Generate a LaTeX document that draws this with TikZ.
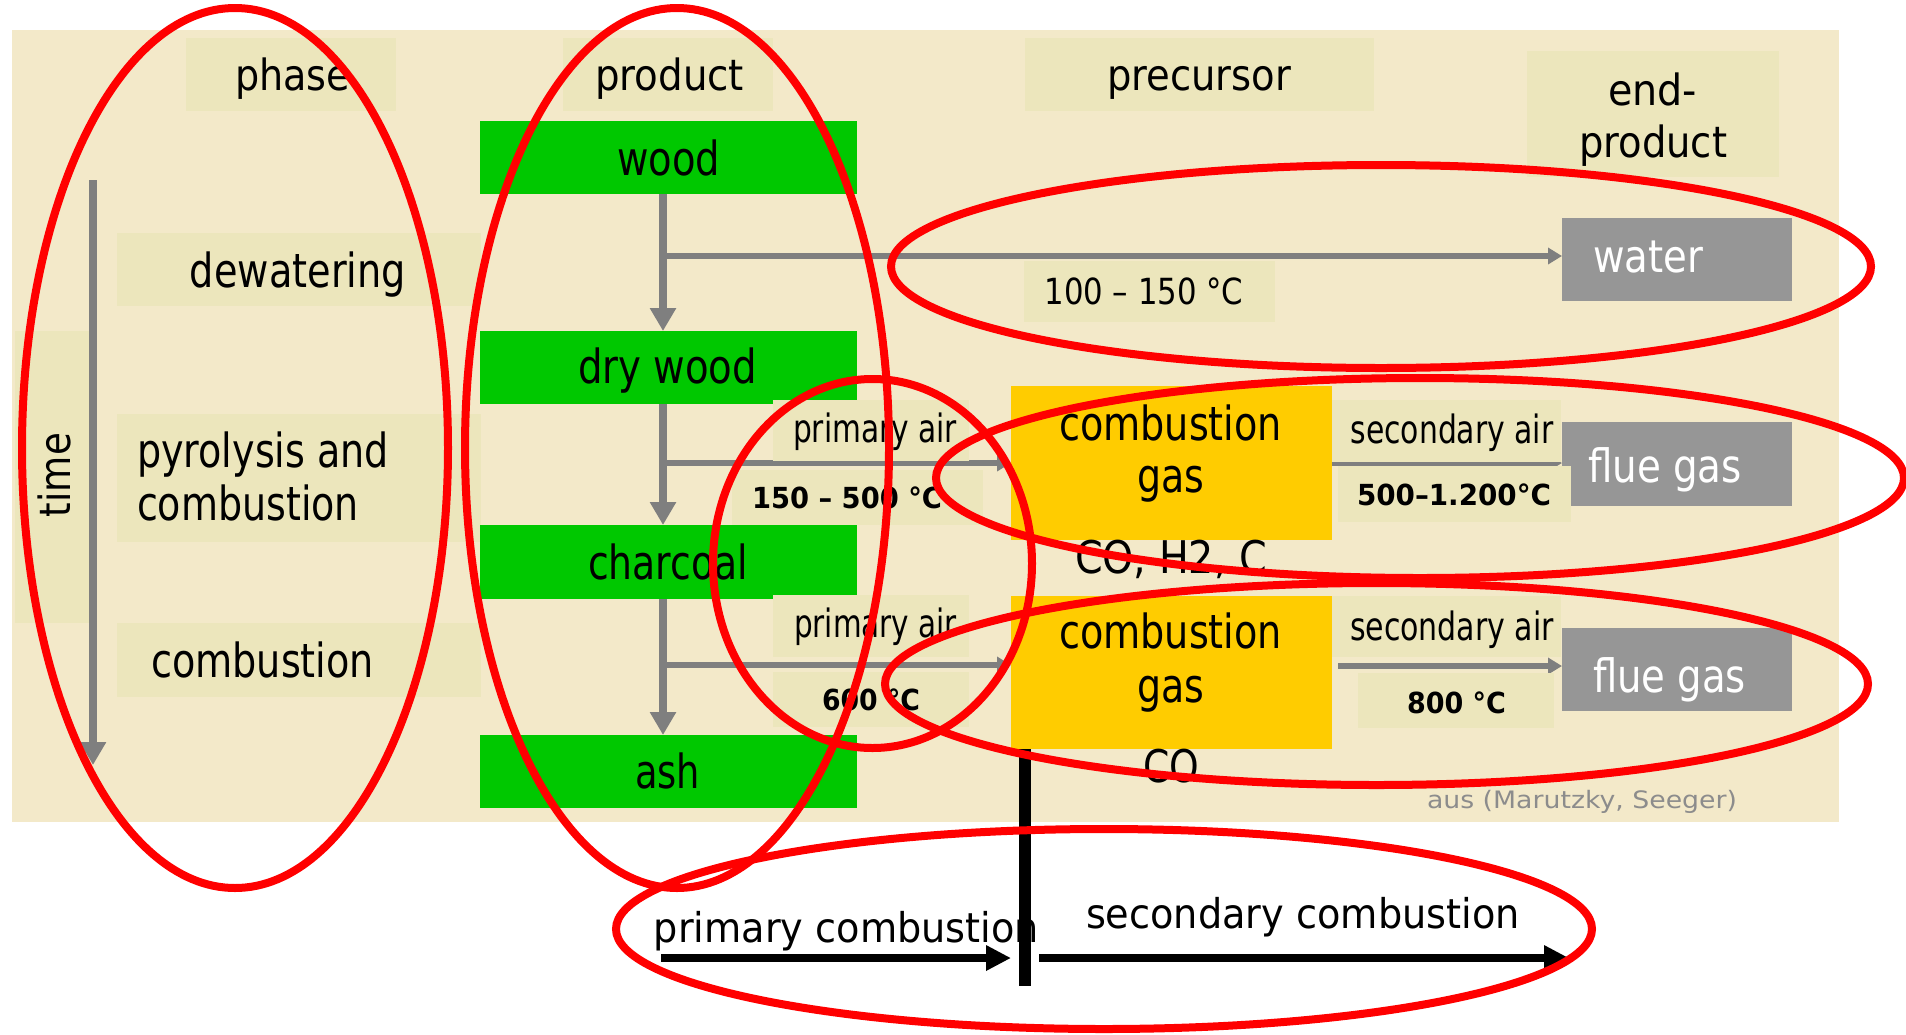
\documentclass[tikz,border=0pt]{standalone}
\usepackage{fontspec}
\setmainfont{DejaVu Sans}
\usepackage{graphicx}
\usetikzlibrary{arrows.meta,fit}
\definecolor{bgbeige}{HTML}{F3E9C9}
\definecolor{lbl}{HTML}{ECE6BC}
\definecolor{grn}{HTML}{00C800}
\definecolor{orng}{HTML}{FFCC00}
\definecolor{endgray}{HTML}{969696}
\definecolor{arrgray}{HTML}{7F7F7F}
\definecolor{srcgray}{HTML}{8C8C8C}
\newcommand{\fitw}[3]{\resizebox{#1pt}{\height}{\fontsize{#2pt}{#2pt}\selectfont #3}}
\begin{document}
\begin{tikzpicture}[x=1pt,y=-1pt,
  box/.style={inner sep=0pt, outer sep=0pt, draw=none},
  lblbox/.style={box, fill=lbl},
  grnbox/.style={box, fill=grn},
  orgbox/.style={box, fill=orng},
  endbox/.style={box, fill=endgray},
  txt/.style={inner sep=0pt, outer sep=0pt, anchor=base},
  wtxt/.style={txt, text=white},
  grayv/.style={draw=arrgray, line width=8pt, -{Triangle[width=25pt,length=23pt]}},
  grayh/.style={draw=arrgray, line width=6pt, -{Triangle[width=16pt,length=14pt]}},
  blackarr/.style={draw=black, line width=8pt, -{Triangle[width=24pt,length=25pt]}},
  divider/.style={draw=black, line width=12pt},
  redell/.style={draw=red, line width=8pt}]
\useasboundingbox (0,0) rectangle (1906,1034);
\fill[white] (0,0) rectangle (1906,1034);
\fill[bgbeige] (12,30) rectangle (1839,822);

% header boxes
\node[lblbox, fit={(186,38) (396,111)}] (hphase) {};
\node[lblbox, fit={(563,38) (773,111)}] (hproduct) {};
\node[lblbox, fit={(1025,38) (1374,111)}] (hprecursor) {};
\node[lblbox, fit={(1527,51) (1779,177)}] (hend) {};
% phase boxes
\node[lblbox, fit={(117,233) (481,306)}] (pdew) {};
\node[lblbox, fit={(117,414) (481,542)}] (ppyr) {};
\node[lblbox, fit={(117,623) (481,697)}] (pcomb) {};
\node[lblbox, fit={(15,331) (89,623)}] (ptime) {};
% product boxes
\node[grnbox, fit={(480,121) (857,194)}] (wood) {};
\node[grnbox, fit={(480,331) (857,404)}] (drywood) {};
\node[grnbox, fit={(480,525) (857,599)}] (charcoal) {};
\node[grnbox, fit={(480,735) (857,808)}] (ash) {};
% precursor boxes
\node[orgbox, fit={(1011,386) (1332,540)}] (comb1) {};
\node[orgbox, fit={(1011,596) (1332,749)}] (comb2) {};
% end products
\node[endbox, fit={(1562,218) (1792,301)}] (water) {};
\node[endbox, fit={(1562,422) (1792,506)}] (flue1) {};
\node[endbox, fit={(1562,628) (1792,711)}] (flue2) {};

% connectors
\coordinate (tstart) at (93,180);
\coordinate (tend) at (93,765);
\draw[grayv] (tstart) -- (tend);
\draw[grayv] ([xshift=-5.5pt]wood.south) -- ([xshift=-5.5pt]drywood.north);
\draw[grayv] ([xshift=-5.5pt]drywood.south) -- ([xshift=-5.5pt]charcoal.north);
\draw[grayv] ([xshift=-5.5pt]charcoal.south) -- ([xshift=-5.5pt]ash.north);
\coordinate (b1) at (663,256);
\coordinate (b2) at (663,463);
\coordinate (b3) at (663,665);
\draw[grayh] (b1) -- (b1 -| water.west);
\draw[grayh] (b2) -- (b2 -| comb1.west);
\draw[grayh] (b3) -- (b3 -| comb2.west);
\coordinate (a1) at (1332,463);
\coordinate (a2) at (1338,666);
\draw[grayh] (a1) -- (a1 -| flue1.west);
\draw[grayh] (a2) -- (a2 -| flue2.west);

% label boxes
\node[lblbox, fit={(1024,261) (1275,322)}] (l100) {};
\node[lblbox, fit={(773,400) (969,461)}] (lpa1) {};
\node[lblbox, fit={(732,470) (983,525)}] (l150) {};
\node[lblbox, fit={(773,595) (969,657)}] (lpa2) {};
\node[lblbox, fit={(773,672) (969,727)}] (l600) {};
\node[lblbox, fit={(1332,400) (1561,462)}] (lsa1) {};
\node[lblbox, fit={(1338,466) (1571,522)}] (l500) {};
\node[lblbox, fit={(1332,596) (1561,657)}] (lsa2) {};
\node[lblbox, fit={(1358,673) (1554,728)}] (l800) {};

% bottom divider and arrows
\coordinate (divtop) at (1025,749);
\coordinate (divbot) at (1025,986);
\draw[divider] (divtop) -- (divbot);
\coordinate (pc0) at (661,958);
\coordinate (pc1) at (1011,958);
\coordinate (sc0) at (1039,958);
\coordinate (sc1) at (1569,958);
\draw[blackarr] (pc0) -- (pc1);
\draw[blackarr] (sc0) -- (sc1);

% texts
\node[txt] (tphase) at (292.5,90) {\fitw{115}{43}{phase}};
\node[txt] (tproduct) at (669.5,90) {\fitw{149}{43}{product}};
\node[txt] (tprecursor) at (1199,90) {\fitw{184}{43}{precursor}};
\node[txt] (tend1) at (1652.5,105) {\fitw{89}{43}{end-}};
\node[txt] (tend2) at (1653,157) {\fitw{148}{43}{product}};
\node[txt] (twood) at (668.5,175) {\fitw{103}{47}{wood}};
\node[txt] (tdrywood) at (667.5,383) {\fitw{179}{47}{dry wood}};
\node[txt] (tcharcoal) at (668,579) {\fitw{160}{47}{charcoal}};
\node[txt] (tash) at (667.5,788) {\fitw{65}{47}{ash}};
\node[txt] (tdew) at (298,287) {\fitw{216}{47}{dewatering}};
\node[txt, anchor=base west] (tpyr1) at (137,467) {\fitw{252}{47}{pyrolysis and}};
\node[txt, anchor=base west] (tpyr2) at (137,520) {\fitw{222}{47}{combustion}};
\node[txt] (tcomb) at (262.5,677) {\fitw{223}{47}{combustion}};
\node[txt, rotate=90] (ttime) at (70,475) {\fitw{84}{43}{time}};
\node[txt] (t100) at (1144,304) {\fitw{199}{36}{100 – 150 °C}};
\node[txt] (tpa1) at (875,442) {\fitw{164}{39}{primary air}};
\node[txt] (t150) at (847,508) {\fitw{190}{29}{\bfseries 150 – 500 °C}};
\node[txt] (tpa2) at (875.5,637) {\fitw{163}{39}{primary air}};
\node[txt] (t600) at (871,710) {\fitw{98}{29}{\bfseries 600 °C}};
\node[txt] (tcg1a) at (1170.5,440) {\fitw{223}{47}{combustion}};
\node[txt] (tcg1b) at (1170.5,492) {\fitw{67}{47}{gas}};
\node[txt] (tcg2a) at (1170.5,648) {\fitw{223}{47}{combustion}};
\node[txt] (tcg2b) at (1170.5,702) {\fitw{67}{47}{gas}};
\node[txt] (tsa1) at (1452,443) {\fitw{203}{39}{secondary air}};
\node[txt] (t500) at (1454,505) {\fitw{194}{29}{\bfseries 500–1.200°C}};
\node[txt] (tsa2) at (1452,640) {\fitw{204}{39}{secondary air}};
\node[txt] (t800) at (1456.5,713) {\fitw{99}{29}{\bfseries 800 °C}};
\node[wtxt] (twater) at (1648,272) {\fitw{110}{45}{water}};
\node[wtxt] (tflue1) at (1665,482) {\fitw{154}{46}{flue gas}};
\node[wtxt] (tflue2) at (1669.5,692) {\fitw{153}{46}{flue gas}};
\node[txt] (tco1) at (1171,573) {\fitw{192}{45}{CO, H2, C}};
\node[txt] (tco2) at (1171,782) {\fitw{56}{45}{CO}};
\node[txt, text=srcgray] (tsrc) at (1582,808) {\fitw{310}{24}{aus (Marutzky, Seeger)}};
\node[txt] (tprim) at (846.5,942) {\fitw{385}{41}{primary combustion}};
\node[txt] (tsec) at (1303,928) {\fitw{434}{41}{secondary combustion}};

% red ellipses
\draw[redell] (235,448) ellipse [x radius=213pt, y radius=440pt];
\draw[redell] (677,448) ellipse [x radius=212pt, y radius=440pt];
\draw[redell] (1381,266.5) ellipse [x radius=490pt, y radius=101.5pt];
\draw[redell] (872.5,563.5) ellipse [x radius=159.5pt, y radius=184.5pt];
\draw[redell] (1420,478) ellipse [x radius=484pt, y radius=100pt];
\draw[redell] (1376.5,684) ellipse [x radius=491.5pt, y radius=101pt];
\draw[redell] (1104,929) ellipse [x radius=488pt, y radius=100pt];
\end{tikzpicture}
\end{document}
